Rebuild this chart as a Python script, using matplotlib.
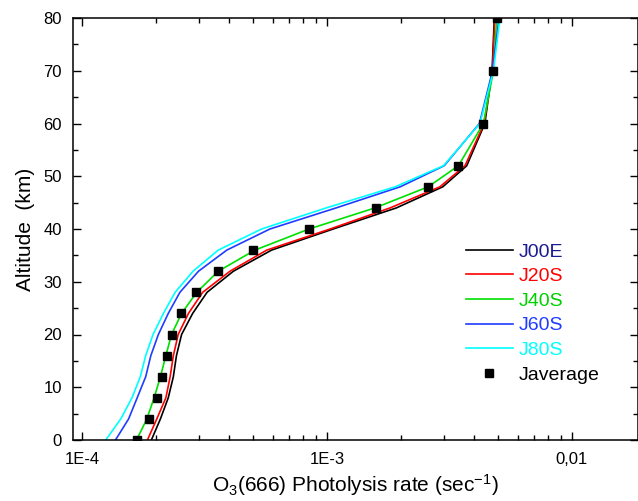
import matplotlib
matplotlib.use('Agg')
import matplotlib.pyplot as plt
from matplotlib import rc
from matplotlib.ticker import LogLocator, MultipleLocator, NullFormatter

rc('mathtext', default='regular')
plt.rcParams['font.family'] = ['Liberation Sans', 'DejaVu Sans']

# altitude grid (km) of the model profiles
altitude = [0, 4, 8, 12, 16, 20, 24, 28, 32, 36, 40, 44, 48, 52, 60, 70, 80]

# photolysis rates (sec^-1)
j00e = [1.92e-4, 2.09e-4, 2.25e-4, 2.36e-4, 2.43e-4, 2.55e-4, 2.83e-4, 3.24e-4, 4.15e-4,
        5.94e-4, 1.06e-3, 1.92e-3, 2.97e-3, 3.72e-3, 4.41e-3, 4.72e-3, 4.82e-3]
j20s = [1.85e-4, 2.02e-4, 2.20e-4, 2.29e-4, 2.36e-4, 2.47e-4, 2.72e-4, 3.11e-4, 4.02e-4,
        5.68e-4, 1.03e-3, 1.81e-3, 2.89e-3, 3.66e-3, 4.38e-3, 4.73e-3, 4.85e-3]
j40s = [1.67e-4, 1.84e-4, 1.97e-4, 2.09e-4, 2.20e-4, 2.32e-4, 2.55e-4, 2.94e-4, 3.60e-4,
        5.08e-4, 8.45e-4, 1.57e-3, 2.59e-3, 3.44e-3, 4.35e-3, 4.78e-3, 4.93e-3]
j60s = [1.37e-4, 1.55e-4, 1.68e-4, 1.82e-4, 1.91e-4, 2.05e-4, 2.25e-4, 2.51e-4, 2.99e-4,
        3.90e-4, 5.85e-4, 1.09e-3, 1.99e-3, 3.01e-3, 4.19e-3, 4.74e-3, 5.04e-3]
j80s = [1.25e-4, 1.44e-4, 1.60e-4, 1.73e-4, 1.82e-4, 1.95e-4, 2.15e-4, 2.40e-4, 2.84e-4,
        3.60e-4, 5.41e-4, 9.93e-4, 1.90e-3, 2.99e-3, 4.21e-3, 4.78e-3, 5.08e-3]
javerage = [1.68e-4, 1.88e-4, 2.02e-4, 2.13e-4, 2.22e-4, 2.34e-4, 2.54e-4, 2.92e-4, 3.58e-4,
            5.00e-4, 8.45e-4, 1.58e-3, 2.59e-3, 3.44e-3, 4.35e-3, 4.77e-3, 4.96e-3]

series_names = ['J00E', 'J20S', 'J40S', 'J60S', 'J80S']
line_colors = ['black', '#ff0000', '#00e000', '#1f3cff', '#00ffff']
text_colors = ['#1a1a90', '#ff0000', '#00d000', '#1f3cff', '#00ffff']

xticks = [1e-4, 1e-3, 1e-2]
xticklabels = ['1E-4', '1E-3', '0,01']

fig = plt.figure(figsize=(6.38, 5.01), dpi=100)
ax = fig.add_axes([73 / 638, 1 - 440 / 501, 1 - 73 / 638, 422 / 501])

for vals, name, col in zip([j00e, j20s, j40s, j60s, j80s], series_names, line_colors):
    ax.plot(vals, altitude, color=col, lw=1.2, label=name)
ax.plot(javerage, altitude, 's', color='black', ms=6, label='Javerage')

ax.set_xscale('log')
ax.set_xlim(9.19e-5, 0.0186)
ax.set_ylim(0, 80)
ax.set_xticks(xticks)
ax.set_xticklabels(xticklabels)
ax.xaxis.set_minor_locator(LogLocator(base=10, subs=range(2, 10)))
ax.xaxis.set_minor_formatter(NullFormatter())
ax.yaxis.set_major_locator(MultipleLocator(10))
ax.yaxis.set_minor_locator(MultipleLocator(5))

ax.tick_params(which='both', direction='in', top=True, right=True, width=1, labelsize=12)
ax.tick_params(which='major', length=6)
ax.tick_params(which='minor', length=3.5)
ax.tick_params(axis='x', which='major', pad=9)
ax.tick_params(axis='y', which='major', pad=8)
for s in ax.spines.values():
    s.set_linewidth(1.1)

ax.set_xlabel(r'O$_3$(666) Photolysis rate (sec$^{-1}$)', fontsize=15, labelpad=3)
ax.set_ylabel('Altitude  (km)', fontsize=15, labelpad=6)

leg = ax.legend(loc='upper left', bbox_to_anchor=(466 / 638, 1 - 243 / 501),
                bbox_transform=fig.transFigure, frameon=False, fontsize=14,
                handlelength=2.4, handletextpad=0.3, labelspacing=0.36,
                borderpad=0, borderaxespad=0)
for txt, col in zip(leg.get_texts(), text_colors + ['black']):
    txt.set_color(col)

fig.savefig('out.png', dpi=100)
